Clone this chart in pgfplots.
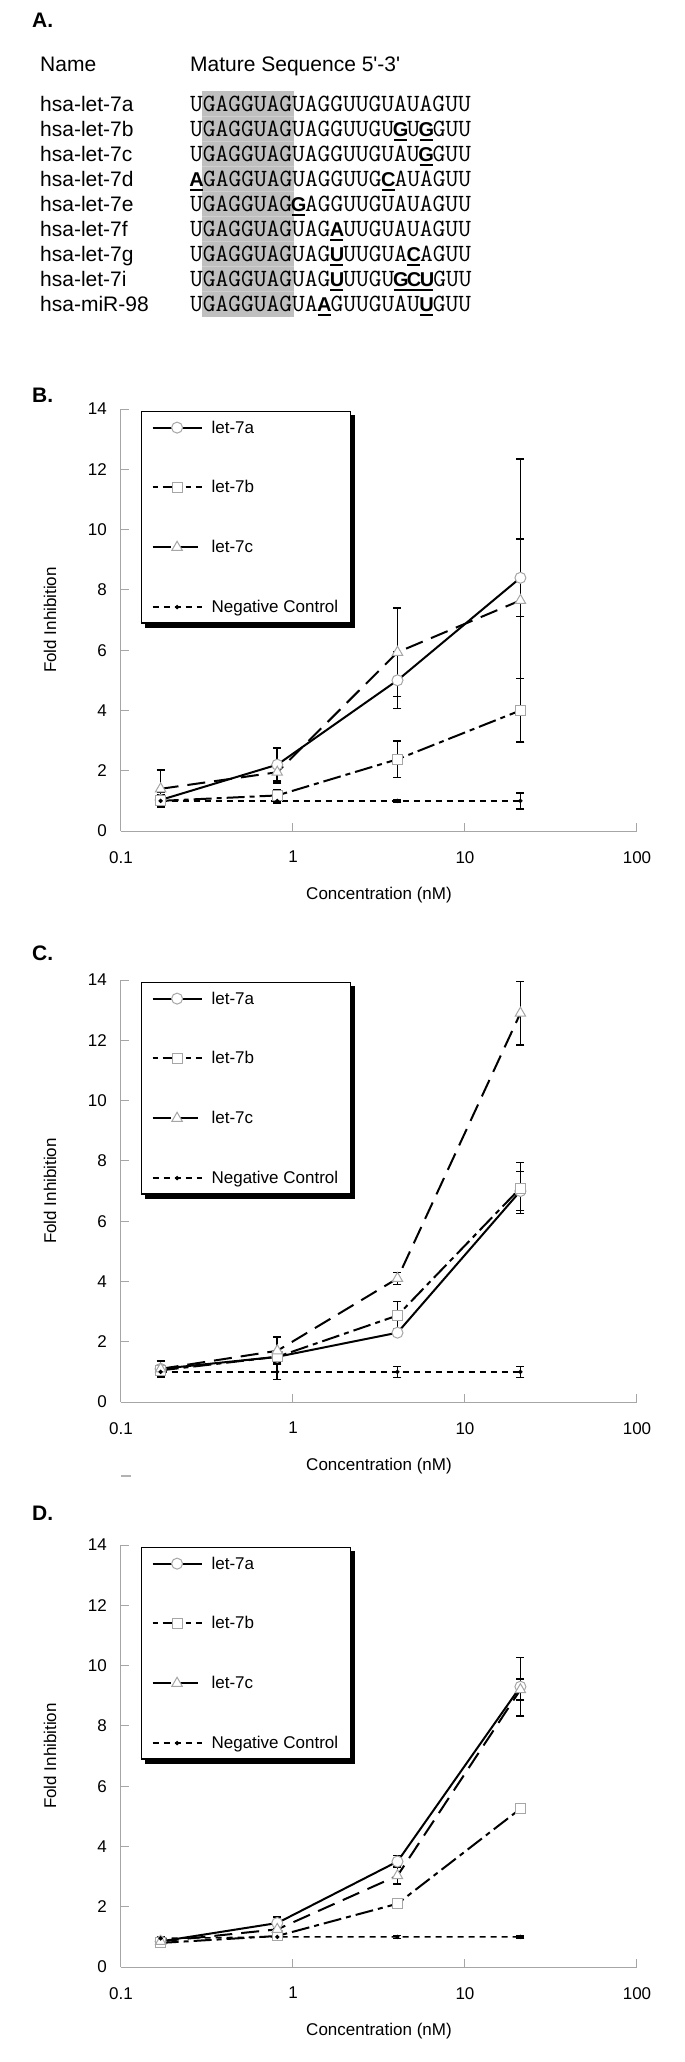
\documentclass[border=0pt]{standalone}
\usepackage{fontspec}
\setmainfont{Liberation Sans}
\usepackage{pgfplots}
\pgfplotsset{compat=1.18}
\usepackage{pgfplotstable}

\newcommand\chartfont{\fontsize{17}{20}\selectfont}
\newcommand\seqfont{\ttfamily\fontsize{24.762}{26}\selectfont}
% changed base: bold sans letter, underlined, in a 13pt cell
\newcommand\mut[1]{\makebox[13pt][c]{\rmfamily\bfseries\fontsize{20}{20}\selectfont #1}\kern-13pt\rule[-5pt]{13pt}{2pt}}
\newcommand\row[3]{%
  \node[anchor=base west, inner sep=0, font=\fontsize{21}{21}\selectfont] at (40,-#1) {#2};
  \node[anchor=base west, inner sep=0, font=\seqfont] at (190,-#1) {#3};}

% fold inhibition: x = concentration (nM), a/b/c = let-7a/b/c, n = negative control, e* = error
\pgfplotstableread{
x    a    ea   b    eb   c    ec   n   en
0.17 1.03 0.25 1.0  0.2  1.4  0.62 1.0 0.15
0.81 2.2  0.55 1.18 0.2  1.95 0.35 1.0 0.08
4.05 5.0  0.93 2.38 0.6  5.93 1.47 1.0 0.03
21   8.4  1.28 4.0  1.06 7.65 4.7  1.0 0.27
}\tabB
\pgfplotstableread{
x    a    ea   b    eb   c    ec   n   en
0.17 1.1  0.1  1.05 0.15 1.1  0.27 1.0 0.1
0.81 1.5  0.1  1.5  0.2  1.7  0.45 1.0 0.25
4.05 2.3  0.12 2.87 0.47 4.1  0.2  1.0 0.18
21   7.0  0.65 7.1  0.85 12.9 1.05 1.0 0.18
}\tabC
\pgfplotstableread{
x    a    ea   b    eb   c    ec   n    en
0.17 0.85 0.08 0.8  0.07 0.85 0.1  0.95 0.05
0.81 1.46 0.2  1.03 0.05 1.25 0.15 1.0  0.03
4.05 3.5  0.2  2.1  0.12 3.03 0.28 1.0  0.05
21   9.3  0.97 5.25 0.07 9.2  0.35 1.0  0.03
}\tabD

\pgfplotsset{
  legend image code/.code={\draw[mark repeat=2, mark phase=2, #1] plot coordinates {(0pt,0pt) (24.5pt,0pt) (49pt,0pt)};},
  lineA/.style={black, solid, line width=2pt, mark=*, mark size=5.5pt,
    mark options={solid, draw=gray!70, fill=white, line width=1pt}},
  lineB/.style={black, line width=2pt, dash pattern=on 18pt off 5pt on 5pt off 5pt,
    mark=square*, mark size=5pt, mark options={solid, draw=gray!70, fill=white, line width=1pt}},
  lineC/.style={black, line width=2pt, dash pattern=on 18pt off 9pt,
    mark=triangle*, mark size=6pt, mark options={solid, draw=gray!70, fill=white, line width=1pt}},
  lineN/.style={black, line width=1.5pt, dash pattern=on 6pt off 5pt,
    mark=*, mark size=1.3pt, mark options={solid, black}},
  ebars/.style={forget plot, error bars/.cd, y dir=both, y explicit,
    error bar style={solid, black, line width=1.6pt},
    error mark options={solid, black, rotate=90, line width=1.6pt, mark size=4pt}},
}

% #1 = y of the axis bottom, #2 = table, #3 = name of the legend
\newcommand\panel[3]{%
\begin{axis}[
    at={(121pt,#1pt)}, anchor=south west,
    scale only axis, width=516pt, height=422pt,
    xmode=log, xmin=0.1, xmax=100, ymin=0, ymax=14,
    xtick={0.1,1,10,100}, xticklabels={0.1,1,10,100}, xminorticks=false,
    ytick={0,2,...,14},
    axis x line*=bottom, axis y line*=left,
    axis line style={draw=gray!70, line width=1pt, -},
    tick align=inside, major tick length=8pt,
    tick style={draw=gray!70, line width=1pt},
    tick label style={font=\chartfont, inner sep=0pt},
    yticklabel style={xshift=-14pt},
    xticklabel style={yshift=-20pt},
    /pgf/number format/assume math mode=true,
    xlabel={Concentration (nM)}, ylabel={Fold Inhibition},
    label style={font=\chartfont},
    xlabel style={at={(axis description cs:0.5,-0.1517)}, anchor=center},
    ylabel style={at={(axis description cs:-0.1376,0.5)}, anchor=center},
    legend cell align=left,
    legend style={name=#3, at={(axis cs:0.1307,13.93)}, anchor=north west,
      draw=black, line width=1.2pt, fill=white,
      font=\chartfont, row sep=42pt, column sep=7pt,
      inner xsep=10pt, inner ysep=7pt, cells={anchor=west}},
  ]
\addlegendimage{lineA}
\addlegendentry{let-7a}
\addlegendimage{lineB, dash phase=23pt}
\addlegendentry{let-7b}
\addlegendimage{lineC}
\addlegendentry{let-7c}
\addlegendimage{lineN}
\addlegendentry{Negative Control}
\addplot[lineA, ebars] table[x=x, y=a, y error=ea] {#2};
\addplot[lineB, ebars] table[x=x, y=b, y error=eb] {#2};
\addplot[lineC, ebars] table[x=x, y=c, y error=ec] {#2};
\addplot[lineN, ebars] table[x=x, y=n, y error=en] {#2};
\end{axis}
% heavy shadow on the right and bottom of the legend box
\fill[black] ([xshift=0.6pt, yshift=-3.5pt]#3.north east) rectangle ([xshift=4.1pt, yshift=-4.1pt]#3.south east);
\fill[black] ([xshift=3.5pt, yshift=-0.6pt]#3.south west) rectangle ([xshift=4.1pt, yshift=-4.1pt]#3.south east);
}

\begin{document}
\begin{tikzpicture}[x=1pt, y=1pt]
\useasboundingbox (0,0) rectangle (685,-2062);

% --- panel A: sequences
\node[anchor=base west, inner sep=0, font=\bfseries\fontsize{21}{21}\selectfont] at (32,-27.5) {A.};
\node[anchor=base west, inner sep=0, font=\fontsize{21}{21}\selectfont] at (40,-71) {Name};
\node[anchor=base west, inner sep=0, font=\fontsize{21}{21}\selectfont] at (190,-71) {Mature Sequence 5\textquotesingle-3\textquotesingle};
\fill[gray!50] (202,-91) rectangle (294,-317);
\foreach \yy in {116,141,...,291} \draw[gray!38, line width=0.6pt] (202,-\yy) -- (294,-\yy);
\row{111}{hsa-let-7a}{UGAGGUAGUAGGUUGUAUAGUU}
\row{136}{hsa-let-7b}{UGAGGUAGUAGGUUGU\mut{G}U\mut{G}GUU}
\row{161}{hsa-let-7c}{UGAGGUAGUAGGUUGUAU\mut{G}GUU}
\row{186}{hsa-let-7d}{\mut{A}GAGGUAGUAGGUUG\mut{C}AUAGUU}
\row{211}{hsa-let-7e}{UGAGGUAG\mut{G}AGGUUGUAUAGUU}
\row{236}{hsa-let-7f}{UGAGGUAGUAG\mut{A}UUGUAUAGUU}
\row{261}{hsa-let-7g}{UGAGGUAGUAG\mut{U}UUGUA\mut{C}AGUU}
\row{286}{hsa-let-7i}{UGAGGUAGUAG\mut{U}UUGU\mut{G}\mut{C}\mut{U}GUU}
\row{311}{hsa-miR-98}{UGAGGUAGUA\mut{A}GUUGUAU\mut{U}GUU}

% --- panel letters
\node[anchor=base west, inner sep=0, font=\bfseries\fontsize{21}{21}\selectfont] at (32,-402) {B.};
\node[anchor=base west, inner sep=0, font=\bfseries\fontsize{21}{21}\selectfont] at (32,-960.5) {C.};
\node[anchor=base west, inner sep=0, font=\bfseries\fontsize{21}{21}\selectfont] at (32,-1520.5) {D.};
\draw[gray!60, line width=1.5pt] (121,-1476) -- (131,-1476);

% --- panels B, C, D
\panel{-831}{\tabB}{legB}
\panel{-1402}{\tabC}{legC}
\panel{-1967}{\tabD}{legD}
\end{tikzpicture}
\end{document}
